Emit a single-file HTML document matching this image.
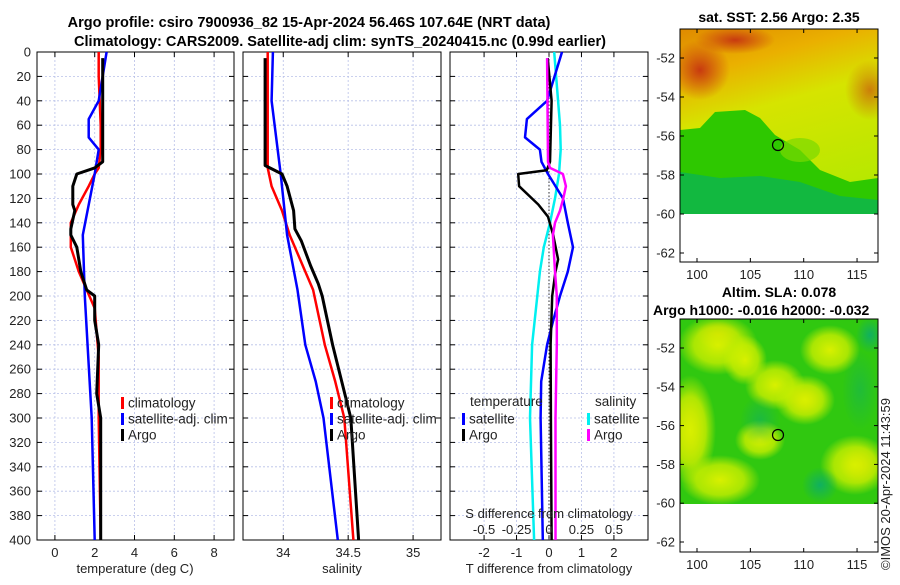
<!DOCTYPE html>
<html><head><meta charset="utf-8"><style>
html,body{margin:0;padding:0;background:#fff;}
svg text{font-family:"Liberation Sans","DejaVu Sans",sans-serif;}
</style></head><body>
<svg id="fig" width="900" height="580" xmlns="http://www.w3.org/2000/svg">
<defs>
<linearGradient id="sstg" x1="0" y1="0" x2="0.3" y2="1">
<stop offset="0" stop-color="#e08a00"/><stop offset="0.25" stop-color="#eab000"/><stop offset="0.5" stop-color="#d6e400"/><stop offset="1" stop-color="#b8e800"/>
</linearGradient>
<radialGradient id="redblob"><stop offset="0" stop-color="#c83a10"/><stop offset="1" stop-color="#c83a10" stop-opacity="0"/></radialGradient>
<radialGradient id="yblob"><stop offset="0" stop-color="#d8f000"/><stop offset="0.6" stop-color="#c8ee00" stop-opacity="0.8"/><stop offset="1" stop-color="#c8ee00" stop-opacity="0"/></radialGradient>
<radialGradient id="oblob"><stop offset="0" stop-color="#f0b000"/><stop offset="1" stop-color="#f0c000" stop-opacity="0"/></radialGradient>
<radialGradient id="dblob"><stop offset="0" stop-color="#10b060"/><stop offset="1" stop-color="#10b060" stop-opacity="0"/></radialGradient>
<clipPath id="c1"><rect x="680" y="29" width="198" height="185"/></clipPath>
<clipPath id="c2"><rect x="680" y="319" width="198" height="185"/></clipPath>
</defs>
<g id="panels"></g>
<text x="309" y="27" text-anchor="middle" font-size="14.5" font-weight="bold">Argo profile: csiro 7900936_82 15-Apr-2024 56.46S 107.64E (NRT data)</text>
<text x="340" y="46" text-anchor="middle" font-size="14.5" font-weight="bold">Climatology: CARS2009. Satellite-adj clim: synTS_20240415.nc (0.99d earlier)</text>

<g>
<text x="779" y="22" text-anchor="middle" font-size="14" font-weight="bold">sat. SST: 2.56 Argo: 2.35</text>
<g clip-path="url(#c1)">
<rect x="680" y="29" width="198" height="185" fill="url(#sstg)"/>
<ellipse cx="700" cy="70" rx="30" ry="30" fill="url(#redblob)"/>
<ellipse cx="735" cy="40" rx="40" ry="14" fill="url(#redblob)"/>
<ellipse cx="870" cy="90" rx="25" ry="30" fill="url(#redblob)" opacity="0.6"/>
<polygon points="680,130 700,128 715,112 745,110 760,118 775,135 800,150 820,170 850,182 878,178 878,214 680,214" fill="#2ec800"/>
<polygon points="680,172 720,178 760,176 800,182 840,196 878,200 878,214 680,214" fill="#12b840"/>
<ellipse cx="800" cy="150" rx="20" ry="12" fill="#7ad800" opacity="0.7"/>
</g>
<rect x="680" y="29" width="198" height="233" fill="none" stroke="#000" stroke-width="1"/>
<circle cx="778" cy="145" r="5.5" fill="none" stroke="#000" stroke-width="1.2"/>
</g>

<g>
<text x="779" y="297" text-anchor="middle" font-size="14" font-weight="bold">Altim. SLA: 0.078</text>
<text x="653" y="315" font-size="14" font-weight="bold">Argo h1000: -0.016 h2000: -0.032</text>
<g clip-path="url(#c2)">
<rect x="680" y="319" width="198" height="185" fill="#30c810"/>
<ellipse cx="718" cy="335" rx="22" ry="14" fill="url(#oblob)"/>
<ellipse cx="718" cy="345" rx="40" ry="30" fill="url(#yblob)"/>
<ellipse cx="690" cy="430" rx="18" ry="40" fill="url(#oblob)"/>
<ellipse cx="690" cy="430" rx="26" ry="55" fill="url(#yblob)"/>
<ellipse cx="745" cy="360" rx="22" ry="25" fill="url(#yblob)"/>
<ellipse cx="775" cy="385" rx="30" ry="25" fill="url(#yblob)"/>
<ellipse cx="805" cy="400" rx="18" ry="16" fill="url(#oblob)"/>
<ellipse cx="805" cy="400" rx="30" ry="25" fill="url(#yblob)"/>
<ellipse cx="830" cy="350" rx="30" ry="25" fill="url(#yblob)"/>
<ellipse cx="860" cy="465" rx="20" ry="20" fill="url(#oblob)"/>
<ellipse cx="855" cy="465" rx="35" ry="30" fill="url(#yblob)"/>
<ellipse cx="720" cy="480" rx="40" ry="25" fill="url(#yblob)"/>
<ellipse cx="760" cy="440" rx="25" ry="20" fill="url(#yblob)"/>
<ellipse cx="820" cy="485" rx="18" ry="18" fill="url(#dblob)"/>
<ellipse cx="870" cy="335" rx="14" ry="18" fill="url(#dblob)"/>
<ellipse cx="760" cy="420" rx="20" ry="25" fill="url(#dblob)" opacity="0.6"/>
<ellipse cx="860" cy="390" rx="18" ry="40" fill="url(#dblob)" opacity="0.5"/>
</g>
<rect x="680" y="319" width="198" height="233" fill="none" stroke="#000" stroke-width="1"/>
<circle cx="778" cy="435" r="5.5" fill="none" stroke="#000" stroke-width="1.2"/>
</g>
<text transform="translate(890,570) rotate(-90)" font-size="13" fill="#222">©IMOS 20-Apr-2024 11:43:59</text>
</svg>
<script>
const tempClimDepth = [0,20,60,80,95,100,110,125,140,160,180,195,210,250,300,400];
const tempClim      = [2.2,2.2,2.3,2.3,2.2,2.0,1.7,1.2,0.8,0.8,1.2,1.6,2.0,2.2,2.2,2.3];
const tempSatDepth  = [0,40,55,70,80,100,150,200,300,400];
const tempSat       = [2.6,2.2,1.7,1.7,2.2,2.0,1.4,1.5,1.85,2.0];
const tempArgoDepth = [5,90,95,100,110,125,130,145,150,160,180,195,200,220,240,280,300,400];
const tempArgo      = [2.4,2.4,2.0,1.1,0.9,0.9,1.0,0.8,0.8,1.1,1.3,1.6,2.0,2.0,2.2,2.1,2.3,2.3];

const salClimDepth = [0,95,110,130,150,180,195,240,270,300,400];
const salClim      = [33.88,33.88,33.91,33.99,34.05,34.17,34.23,34.32,34.40,34.47,34.54];
const salSatDepth  = [0,40,100,150,195,240,270,300,400];
const salSat       = [33.92,33.91,33.98,34.03,34.11,34.17,34.25,34.31,34.42];
const salArgoDepth = [5,93,100,110,130,145,155,175,190,200,240,270,300,400];
const salArgo      = [33.86,33.86,33.99,34.03,34.08,34.09,34.14,34.21,34.27,34.30,34.38,34.45,34.52,34.58];

const dTSatDepth  = [0,40,55,70,80,90,100,120,140,160,180,200,220,240,270,300,400];
const dTSat       = [0.4,-0.06,-0.68,-0.74,-0.28,-0.23,-0.03,0.43,0.58,0.74,0.58,0.34,0.13,-0.06,-0.24,-0.26,-0.19];
const dTArgoDepth = [5,40,90,97,100,110,125,135,150,170,180,200,240,300,400];
const dTArgo      = [-0.04,0.08,0.03,-0.07,-0.95,-0.92,-0.33,-0.03,0.13,0.28,0.2,0.1,0.05,0.06,0.08];
const dSSatDepth  = [0,60,80,100,120,140,160,180,200,240,300,400];
const dSSat       = [0.04,0.085,0.09,0.077,0.046,0.008,-0.04,-0.07,-0.09,-0.13,-0.146,-0.115];
const dSArgoDepth = [5,90,95,100,110,120,130,140,150,180,200,240,300,400];
const dSArgo      = [-0.015,-0.008,0.008,0.107,0.13,0.11,0.085,0.046,0.03,0.046,0.06,0.06,0.05,0.05];

const depthTicks = [0,20,40,60,80,100,120,140,160,180,200,220,240,260,280,300,320,340,360,380,400];
const tempTicks = [0,2,4,6,8];
const salTicks = [34,34.5,35];
const salTickLabels = ["34","34.5","35"];
const dTTicks = [-2,-1,0,1,2];
const dSTicks = [-0.5,-0.25,0,0.25,0.5];
const dSTickLabels = ["-0.5","-0.25","0","0.25","0.5"];
const mapLonTicks = [100,105,110,115];
const mapLatTicks = [-52,-54,-56,-58,-60,-62];

const Y0=52, Y1=540;
const yD = d => Y0 + d*(Y1-Y0)/400;
const panels = [
 {x0:37,x1:234,min:-0.9,max:9.0,name:'temperature-panel'},
 {x0:243,x1:441,min:33.69,max:35.215,name:'salinity-panel'},
 {x0:450,x1:648,min:-3.05,max:3.05,name:'difference-panel'}
];
const sx = (p,v) => p.x0 + (v-p.min)/(p.max-p.min)*(p.x1-p.x0);
const sxS = v => sx(panels[2], v*4);
const NS='http://www.w3.org/2000/svg';
const root=document.getElementById('panels');
function mk(tag,attrs,parent){const e=document.createElementNS(NS,tag);for(const k in attrs)e.setAttribute(k,attrs[k]);(parent||root).appendChild(e);return e;}
function txt(x,y,s,size,anchor,parent){const t=mk('text',{x:x,y:y,'font-size':size,'text-anchor':anchor||'middle',fill:'#222'},parent);t.textContent=s;return t;}

panels.forEach((p,i)=>{
  const g=mk('g',{});
  
  
  mk('rect',{x:p.x0,y:Y0,width:p.x1-p.x0,height:Y1-Y0,fill:'#fff'},g);
  depthTicks.forEach(d=>{
    mk('line',{x1:p.x0,x2:p.x1,y1:yD(d),y2:yD(d),stroke:'#b8c0e8','stroke-width':0.8,'stroke-dasharray':'2,2'},g);
    mk('line',{x1:p.x0,x2:p.x0+5,y1:yD(d),y2:yD(d),stroke:'#000'},g);
    mk('line',{x1:p.x1,x2:p.x1-5,y1:yD(d),y2:yD(d),stroke:'#000'},g);
  });
  const ticks = i===0?tempTicks:(i===1?salTicks:dTTicks);
  ticks.forEach((t,k)=>{
    const x=sx(p,t);
    mk('line',{x1:x,x2:x,y1:Y0,y2:Y1,stroke:'#b8c0e8','stroke-width':0.8,'stroke-dasharray':'2,2'},g);
    mk('line',{x1:x,x2:x,y1:Y1,y2:Y1-5,stroke:'#000'},g);
    mk('line',{x1:x,x2:x,y1:Y0,y2:Y0+5,stroke:'#000'},g);
    const lab = i===1?salTickLabels[k]:String(t);
    const e=txt(x,557,lab,13,'middle',g);
    
    
  });
  mk('rect',{x:p.x0,y:Y0,width:p.x1-p.x0,height:Y1-Y0,fill:'none',stroke:'#000','stroke-width':1},g);
});
depthTicks.forEach(d=>{
  const e=txt(31,yD(d)+4.5,String(d),13,'end');
  
  
});
let at;
at=txt(135,573,'temperature (deg C)',13);


at=txt(342,573,'salinity',13);


at=txt(549,573,'T difference from climatology',13);



function line(xs,ds,fx,color,w,name){
  const pts=xs.map((v,i)=>fx(v).toFixed(1)+','+yD(ds[i]).toFixed(1)).join(' ');
  const l=mk('polyline',{points:pts,fill:'none',stroke:color,'stroke-width':w,'stroke-linejoin':'round'});
  
  
}
const P=panels;
line(tempClim,tempClimDepth,v=>sx(P[0],v),'#f00',2.5,'temp-climatology-line');
line(tempSat,tempSatDepth,v=>sx(P[0],v),'#00f',2.5,'temp-satellite-line');
line(tempArgo,tempArgoDepth,v=>sx(P[0],v),'#000',3,'temp-argo-line');
line(salClim,salClimDepth,v=>sx(P[1],v),'#f00',2.5,'sal-climatology-line');
line(salSat,salSatDepth,v=>sx(P[1],v),'#00f',2.5,'sal-satellite-line');
line(salArgo,salArgoDepth,v=>sx(P[1],v),'#000',3,'sal-argo-line');
const zl=mk('line',{x1:sx(P[2],0),x2:sx(P[2],0),y1:Y0,y2:Y1,stroke:'#333','stroke-width':1,'stroke-dasharray':'1.5,2'});


line(dSSat,dSSatDepth,sxS,'#00f0f0',2.5,'sdiff-satellite-line');
line(dTSat,dTSatDepth,v=>sx(P[2],v),'#00f',2.5,'tdiff-satellite-line');
line(dTArgo,dTArgoDepth,v=>sx(P[2],v),'#000',2.5,'tdiff-argo-line');
line(dSArgo,dSArgoDepth,sxS,'#f0f',2.5,'sdiff-argo-line');

at=txt(549,518,'S difference from climatology',13);


dSTicks.forEach((t,k)=>{
  const e=txt(sxS(t),534,dSTickLabels[k],13);
  
  
});

function leg(x,y,color,label,name){
  const g=mk('g',{});
  
  
  mk('rect',{x:x,y:y-6,width:3,height:12,fill:color},g);
  txt(x+7,y+4.5,label,13.5,'start',g);
}
leg(121,403,'#f00','climatology','legend-climatology');
leg(121,419,'#00f','satellite-adj. clim','legend-satellite');
leg(121,435,'#000','Argo','legend-argo');
leg(330,403,'#f00','climatology','legend-sal-climatology');
leg(330,419,'#00f','satellite-adj. clim','legend-sal-satellite');
leg(330,435,'#000','Argo','legend-sal-argo');
at=txt(470,406,'temperature',13.5,'start');


at=txt(595,406,'salinity',13.5,'start');


leg(462,419,'#00f','satellite','legend-tdiff-satellite');
leg(462,435,'#000','Argo','legend-tdiff-argo');
leg(587,419,'#00f0f0','satellite','legend-sdiff-satellite');
leg(587,435,'#f0f','Argo','legend-sdiff-argo');

const fig=document.getElementById('fig');
const lonX = lon => 697 + (lon-100)*10.67;
[{top:29,bot:262,lat52:58,per:19.5,nm:'sst'},{top:319,bot:552,lat52:348,per:19.4,nm:'sla'}].forEach(m=>{
  mapLonTicks.forEach(lon=>{
    const x=lonX(lon);
    mk('line',{x1:x,x2:x,y1:m.bot,y2:m.bot-4,stroke:'#000'},fig);
    mk('line',{x1:x,x2:x,y1:m.top,y2:m.top+4,stroke:'#000'},fig);
    const e=txt(x,m.bot+17,String(lon),13,'middle',fig);
    
    
  });
  mapLatTicks.forEach(lat=>{
    const yy=m.lat52+(-52-lat)*m.per;
    mk('line',{x1:680,x2:684,y1:yy,y2:yy,stroke:'#000'},fig);
    mk('line',{x1:878,x2:874,y1:yy,y2:yy,stroke:'#000'},fig);
    const e=txt(675,yy+4.5,String(lat),13,'end',fig);
    
    
  });
});
</script>
</body></html>
